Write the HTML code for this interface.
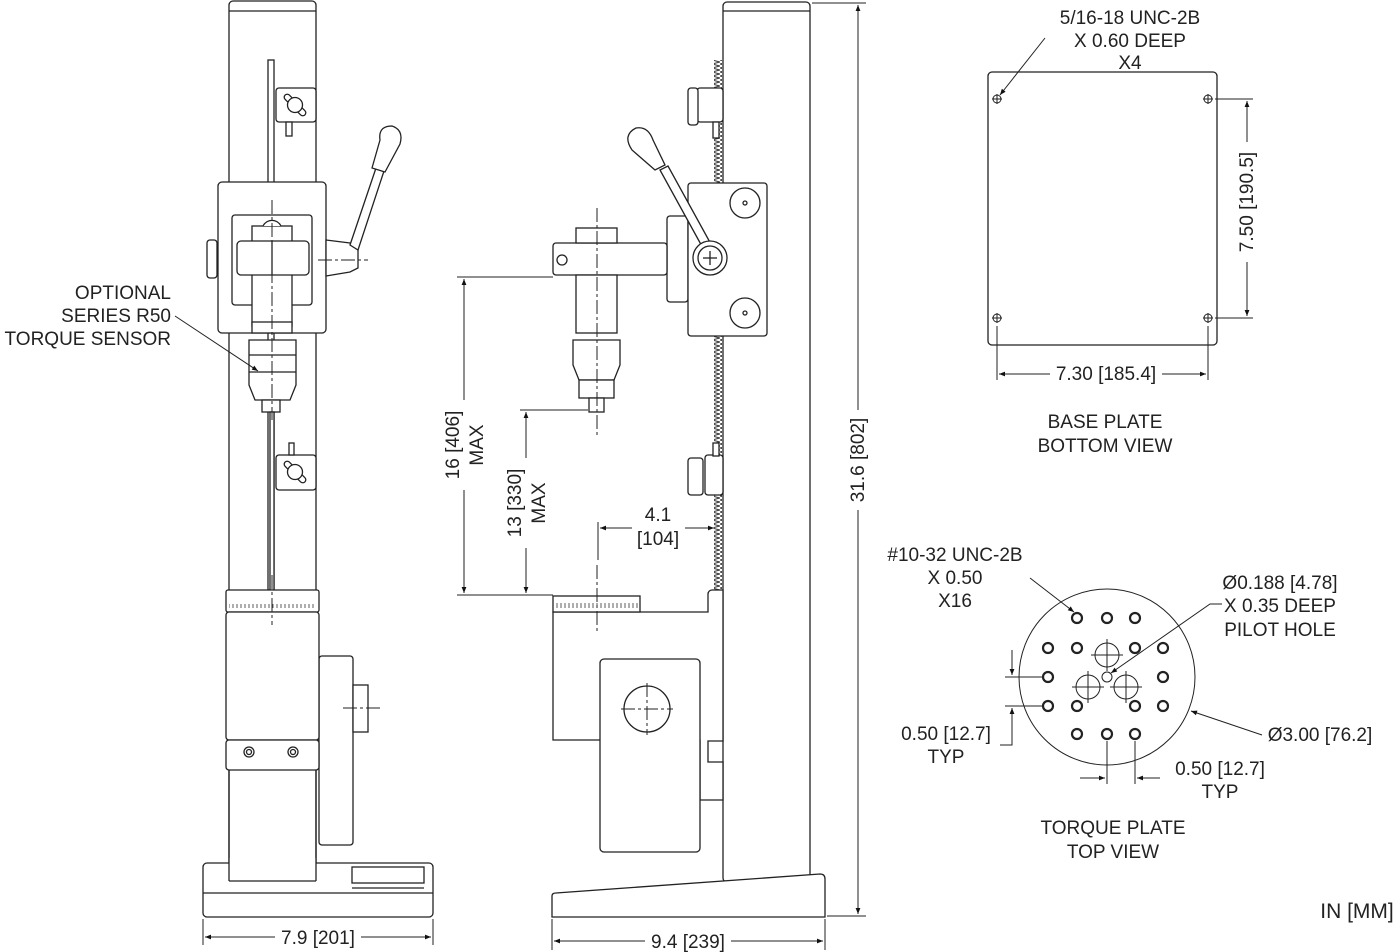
<!DOCTYPE html>
<html><head><meta charset="utf-8"><style>
html,body{margin:0;padding:0;background:#fff}
svg{display:block}
text{font-family:"Liberation Sans",Arial,sans-serif;font-size:19px;fill:#222}
</style></head><body>
<svg width="1400" height="952" viewBox="0 0 1400 952" xmlns="http://www.w3.org/2000/svg">
<defs>
<marker id="a" viewBox="0 0 10 10" refX="10" refY="5" markerWidth="14" markerHeight="6" orient="auto-start-reverse" markerUnits="userSpaceOnUse"><path d="M0,1 L10,5 L0,9 z" fill="#111"/></marker>
<pattern id="rk" width="8" height="4" patternUnits="userSpaceOnUse"><path d="M0,0 L8,2 L0,4" fill="none" stroke="#333" stroke-width="1"/></pattern>
<pattern id="tk" width="4" height="8" patternUnits="userSpaceOnUse"><line x1="1" y1="3" x2="1" y2="8" stroke="#333" stroke-width="0.8"/></pattern>
</defs>
<g fill="#fff" stroke="#222" stroke-width="1.3">
<rect x="229" y="1" width="87" height="880" rx="4"/>
<line x1="229" y1="11" x2="316" y2="11"/>
<rect x="268" y="60" width="6" height="530"/>
<rect x="276" y="88" width="40" height="34" rx="3"/>
<rect x="281" y="102" width="28" height="6" rx="3" transform="rotate(45 295 105)"/>
<circle cx="295" cy="105" r="7.5"/>
<rect x="286" y="122" width="6" height="14"/>
<rect x="218" y="182" width="108" height="151" rx="4"/>
<rect x="232" y="215" width="80" height="90" rx="3"/>
<rect x="252" y="226" width="40" height="100"/>
<path d="M263,226 a10,10 0 0 1 18,0" />
<rect x="237" y="241" width="72" height="34" rx="4"/>
<line x1="272" y1="241" x2="272" y2="275"/>
<rect x="252" y="322" width="40" height="11"/>
<rect x="207" y="240" width="10" height="38" rx="3"/>
<path d="M326,240 L350,243 L358,248 L358,268 L350,272 L326,276 z"/>
<path d="M350,245 L376,168 L384,171 L358,250 z"/>
<path d="M372,168 L380,140 Q378,126 392,126 Q404,130 400,144 L385,172 z"/>
<path d="M249,340 h47 v45 l-6,15 h-35 l-6,-15 z"/>
<line x1="249" y1="355" x2="296" y2="355"/><line x1="249" y1="372" x2="296" y2="372"/>
<rect x="262" y="400" width="18" height="12"/>
<rect x="270" y="412" width="4" height="178"/>
<rect x="276" y="455" width="40" height="35" rx="3"/>
<rect x="281" y="469" width="28" height="6" rx="3" transform="rotate(45 295 472)"/>
<circle cx="295" cy="472" r="7.5"/>
<rect x="289" y="443" width="5" height="12"/>
<rect x="319" y="656" width="34" height="189" rx="3"/>
<rect x="353" y="685" width="15" height="47"/>
<rect x="226" y="590" width="93" height="22" rx="2"/>
<rect x="229" y="604" width="87" height="7" fill="url(#tk)" stroke="none"/>
<rect x="226" y="612" width="93" height="128" rx="3"/>
<rect x="226" y="740" width="93" height="30" rx="3"/>
<circle cx="249" cy="752" r="5"/><circle cx="249" cy="752" r="2.5"/>
<circle cx="293" cy="752" r="5"/><circle cx="293" cy="752" r="2.5"/>
<rect x="203" y="863" width="230" height="54" rx="4"/>
<line x1="203" y1="893" x2="433" y2="893"/>
<rect x="229" y="858" width="87" height="23" stroke="none"/>
<line x1="229" y1="770" x2="229" y2="881"/><line x1="316" y1="770" x2="316" y2="881"/><line x1="229" y1="881" x2="316" y2="881"/>
<rect x="352" y="867" width="72" height="16"/>
<line x1="352" y1="888" x2="424" y2="888"/>
<rect x="723" y="2" width="87" height="880" rx="4"/>
<line x1="723" y1="11" x2="810" y2="11"/>
<rect x="714" y="60" width="8" height="530" fill="url(#rk)" stroke="none"/>
<rect x="697" y="88" width="26" height="34" rx="3"/>
<rect x="688" y="88" width="10" height="37" rx="3"/>
<rect x="713" y="122" width="6" height="16"/>
<rect x="667" y="216" width="21" height="86" rx="3"/>
<rect x="553" y="243" width="114" height="32" rx="3"/>
<circle cx="562" cy="260" r="5"/>
<rect x="576" y="228" width="41" height="15"/>
<rect x="576" y="275" width="41" height="58"/>
<path d="M573,340 h47 v25 l-6,15 h-35 l-6,-15 z"/>
<rect x="579" y="380" width="35" height="18"/>
<rect x="589" y="398" width="15" height="14"/>
<rect x="688" y="183" width="79" height="153" rx="3"/>
<circle cx="745" cy="203" r="15"/><circle cx="745" cy="203" r="2"/>
<circle cx="745" cy="313" r="15"/><circle cx="745" cy="313" r="2"/>
<path d="M704,250 L660,170 L668,166 L712,246 z"/>
<path d="M655,170 L632,150 Q622,135 636,128 Q648,126 653,140 L665,165 z"/>
<circle cx="710" cy="258" r="17"/><circle cx="710" cy="258" r="12"/>
<line x1="703" y1="258" x2="717" y2="258"/><line x1="710" y1="251" x2="710" y2="265"/>
<rect x="705" y="455" width="18" height="40" rx="3"/>
<rect x="688" y="458" width="15" height="37" rx="3"/>
<rect x="713" y="443" width="6" height="13"/>
<path d="M553,612 H708 V594 a4,4 0 0 1 4,-4 H723 V741 H708 V762 H723 V800 H700 V740 H553 z"/>
<rect x="553" y="596" width="87" height="16"/>
<rect x="555" y="603" width="83" height="8" fill="url(#tk)" stroke="none"/>
<rect x="600" y="659" width="100" height="193" rx="4"/>
<circle cx="647" cy="709" r="23"/>
<path d="M552,896 Q552,893 556,893 L820,874 Q825,874 825,879 V917 H552 z"/>
<rect x="988" y="72" width="229" height="273" rx="4"/>
</g>
<g fill="none" stroke="#222" stroke-width="1">
<circle cx="997" cy="99" r="4"/><circle cx="1208" cy="99" r="4"/><circle cx="997" cy="318" r="4"/><circle cx="1208" cy="318" r="4"/>
<path d="M992,99h10M997,94v10M1203,99h10M1208,94v10M992,318h10M997,313v10M1203,318h10M1208,313v10"/>
<circle cx="1107" cy="677" r="88"/>
<g stroke-width="2.2">
<circle cx="1077" cy="618" r="5"/><circle cx="1107" cy="618" r="5"/><circle cx="1135" cy="618" r="5"/>
<circle cx="1048" cy="648" r="5"/><circle cx="1077" cy="648" r="5"/><circle cx="1135" cy="648" r="5"/><circle cx="1163" cy="648" r="5"/>
<circle cx="1048" cy="677" r="5"/><circle cx="1163" cy="677" r="5"/>
<circle cx="1048" cy="706" r="5"/><circle cx="1077" cy="706" r="5"/><circle cx="1135" cy="706" r="5"/><circle cx="1163" cy="706" r="5"/>
<circle cx="1077" cy="734" r="5"/><circle cx="1107" cy="734" r="5"/><circle cx="1135" cy="734" r="5"/>
</g>
<circle cx="1107" cy="655" r="12"/><circle cx="1088" cy="687" r="12"/><circle cx="1126" cy="687" r="12"/><circle cx="1107" cy="677" r="5"/>
<path d="M1091,655h32M1107,639v32M1072,687h32M1088,671v32M1110,687h32M1126,671v32"/>
<g stroke-dasharray="14,3,3,3">
<line x1="272" y1="200" x2="272" y2="420"/>
<line x1="318" y1="260" x2="368" y2="260"/>
<line x1="272" y1="575" x2="272" y2="625"/>
<line x1="343" y1="708" x2="380" y2="708"/>
<line x1="597" y1="208" x2="597" y2="435"/>
<line x1="597" y1="565" x2="597" y2="633"/>
<line x1="621" y1="709" x2="673" y2="709"/>
<line x1="647" y1="683" x2="647" y2="735"/>
</g>
<line x1="203" y1="919" x2="203" y2="945"/><line x1="433" y1="919" x2="433" y2="945"/>
<line x1="205" y1="937" x2="275" y2="937" marker-start="url(#a)"/><line x1="361" y1="937" x2="431" y2="937" marker-end="url(#a)"/>
<line x1="552" y1="919" x2="552" y2="950"/><line x1="825" y1="919" x2="825" y2="950"/>
<line x1="554" y1="941" x2="645" y2="941" marker-start="url(#a)"/><line x1="731" y1="941" x2="823" y2="941" marker-end="url(#a)"/>
<line x1="812" y1="3" x2="866" y2="3"/><line x1="827" y1="916" x2="866" y2="916"/>
<line x1="858" y1="5" x2="858" y2="410" marker-start="url(#a)"/><line x1="858" y1="510" x2="858" y2="914" marker-end="url(#a)"/>
<line x1="457" y1="277" x2="553" y2="277"/><line x1="457" y1="595" x2="553" y2="595"/>
<line x1="464" y1="279" x2="464" y2="400" marker-start="url(#a)"/><line x1="464" y1="490" x2="464" y2="593" marker-end="url(#a)"/>
<line x1="520" y1="410" x2="588" y2="410"/>
<line x1="526" y1="412" x2="526" y2="458" marker-start="url(#a)"/><line x1="526" y1="548" x2="526" y2="593" marker-end="url(#a)"/>
<line x1="598" y1="522" x2="598" y2="560"/>
<line x1="600" y1="528" x2="632" y2="528" marker-start="url(#a)"/><line x1="685" y1="528" x2="714" y2="528" marker-end="url(#a)"/>
<line x1="175" y1="316" x2="258" y2="371" marker-end="url(#a)"/>
<path d="M1045,38 L1000,95" marker-end="url(#a)"/>
<line x1="1215" y1="99" x2="1253" y2="99"/><line x1="1215" y1="318" x2="1253" y2="318"/>
<line x1="1247" y1="101" x2="1247" y2="142" marker-start="url(#a)"/><line x1="1247" y1="262" x2="1247" y2="316" marker-end="url(#a)"/>
<line x1="997" y1="326" x2="997" y2="380"/><line x1="1208" y1="326" x2="1208" y2="380"/>
<line x1="999" y1="374" x2="1050" y2="374" marker-start="url(#a)"/><line x1="1162" y1="374" x2="1206" y2="374" marker-end="url(#a)"/>
<path d="M1030,578 L1074,612" marker-end="url(#a)"/>
<path d="M1222,604 H1210 L1111,673" marker-end="url(#a)"/>
<path d="M1262,735 L1191,711" marker-end="url(#a)"/>
<line x1="1005" y1="677" x2="1042" y2="677"/><line x1="1005" y1="706" x2="1042" y2="706"/>
<line x1="1012" y1="650" x2="1012" y2="675" marker-end="url(#a)"/>
<path d="M1012,708 V745 H1000" marker-start="url(#a)"/>
<line x1="1107" y1="741" x2="1107" y2="784"/><line x1="1135" y1="741" x2="1135" y2="784"/>
<line x1="1080" y1="778" x2="1105" y2="778" marker-end="url(#a)"/>
<line x1="1160" y1="778" x2="1137" y2="778" marker-end="url(#a)"/>
</g>
<g text-anchor="end">
<text x="171" y="299">OPTIONAL</text>
<text x="171" y="322">SERIES R50</text>
<text x="171" y="345">TORQUE SENSOR</text>
</g>
<g text-anchor="middle">
<text x="318" y="944">7.9 [201]</text>
<text x="688" y="948">9.4 [239]</text>
<text transform="translate(864,460) rotate(-90)">31.6 [802]</text>
<text transform="translate(459,445) rotate(-90)">16 [406]</text>
<text transform="translate(483,445) rotate(-90)">MAX</text>
<text transform="translate(521,503) rotate(-90)">13 [330]</text>
<text transform="translate(545,503) rotate(-90)">MAX</text>
<text x="658" y="521">4.1</text>
<text x="658" y="545">[104]</text>
<text x="1130" y="24">5/16-18 UNC-2B</text>
<text x="1130" y="47">X 0.60 DEEP</text>
<text x="1130" y="69">X4</text>
<text transform="translate(1253,202) rotate(-90)">7.50 [190.5]</text>
<text x="1106" y="380">7.30 [185.4]</text>
<text x="1105" y="428">BASE PLATE</text>
<text x="1105" y="452">BOTTOM VIEW</text>
<text x="955" y="561">#10-32 UNC-2B</text>
<text x="955" y="584">X 0.50</text>
<text x="955" y="607">X16</text>
<text x="1280" y="589">Ø0.188 [4.78]</text>
<text x="1280" y="612">X 0.35 DEEP</text>
<text x="1280" y="636">PILOT HOLE</text>
<text x="1320" y="741">Ø3.00 [76.2]</text>
<text x="946" y="740">0.50 [12.7]</text>
<text x="946" y="763">TYP</text>
<text x="1220" y="775">0.50 [12.7]</text>
<text x="1220" y="798">TYP</text>
<text x="1113" y="834">TORQUE PLATE</text>
<text x="1113" y="858">TOP VIEW</text>
<text x="1357" y="918" style="font-size:21px">IN [MM]</text>
</g>
</svg>
</body></html>
